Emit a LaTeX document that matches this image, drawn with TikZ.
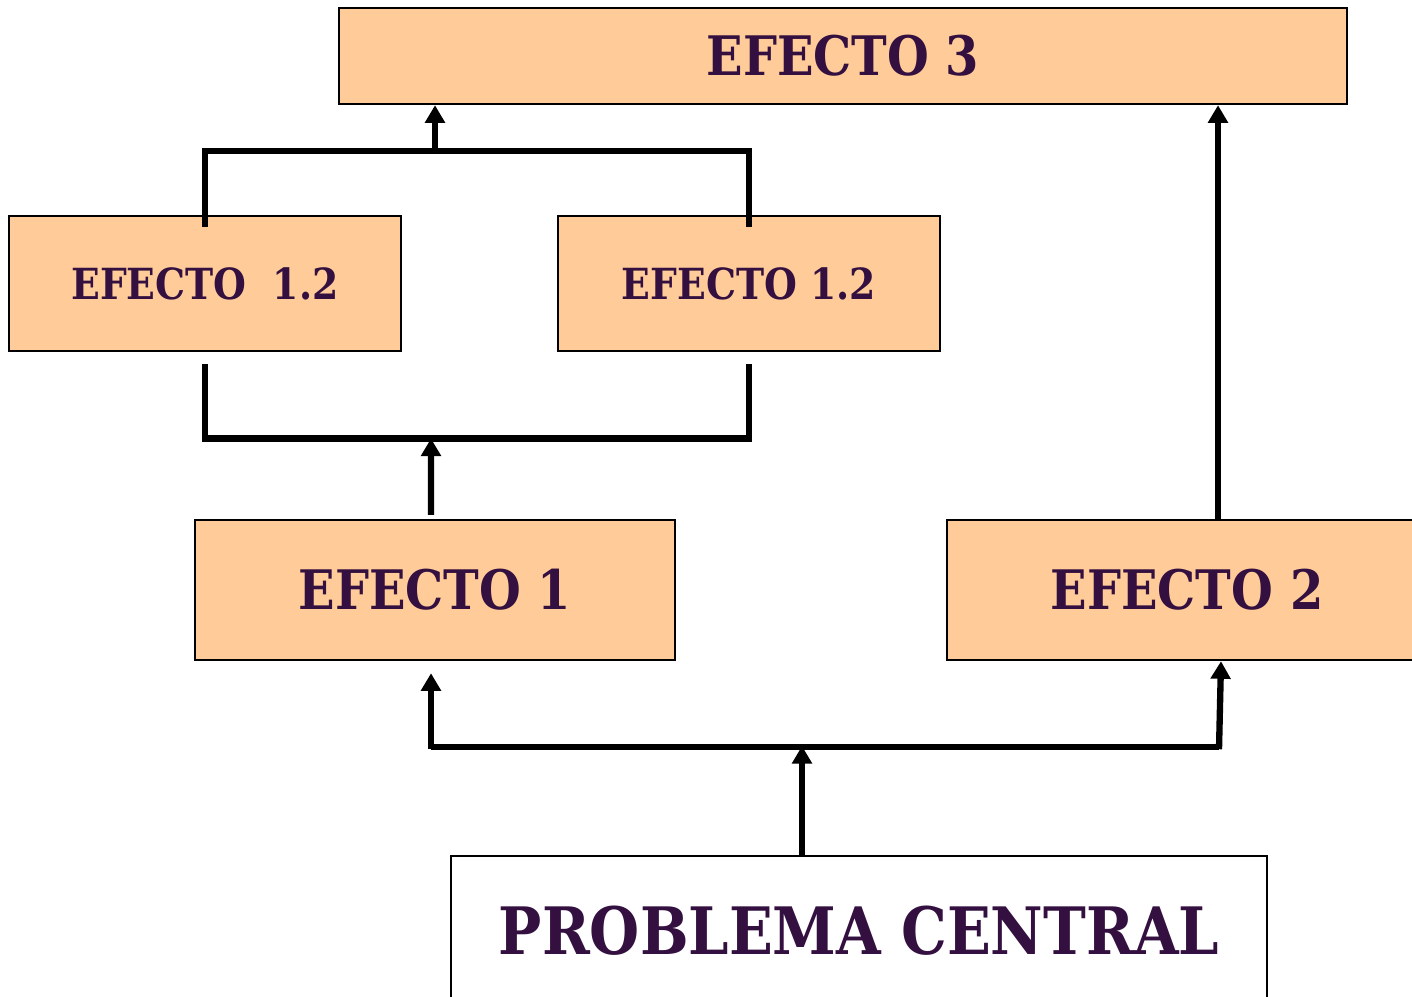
\documentclass[tikz,border=0pt]{standalone}
\usepackage{fontspec}
\setmainfont{DejaVu Serif}
\newfontfamily\slabfont[FakeStretch=0.88]{DejaVu Serif}
\usepackage{tikz}
\usetikzlibrary{calc, arrows.meta}
\definecolor{peach}{HTML}{FFCC99}
\definecolor{ink}{HTML}{33103F}
\tikzset{
  efbox/.style={draw=black, line width=0.7pt, fill=peach, text=ink,
    font=\slabfont\bfseries, inner sep=0pt},
  bar/.style={line width=1.8pt},
  up/.style={line width=1.8pt, -{Triangle[length=5pt,width=5.5pt]}}
}

\begin{document}
\begin{tikzpicture}
  \useasboundingbox (0,0) rectangle (14.12,-9.97);
  % boxes
  \node[efbox, minimum width=10.08cm, minimum height=0.96cm,
    font=\slabfont\bfseries\fontsize{15.5}{18}\selectfont] (e3) at (8.43,-0.56) {EFECTO 3};
  \node[efbox, minimum width=3.92cm, minimum height=1.35cm,
    font=\slabfont\bfseries\fontsize{12.2}{14}\selectfont] (e12l) at (2.05,-2.835) {EFECTO\ \ 1.2};
  \node[efbox, minimum width=3.82cm, minimum height=1.35cm,
    font=\slabfont\bfseries\fontsize{12.2}{14}\selectfont] (e12r) at (7.49,-2.835) {EFECTO 1.2};
  \node[efbox, minimum width=4.80cm, minimum height=1.40cm,
    font=\slabfont\bfseries\fontsize{15.5}{18}\selectfont] (e1) at (4.35,-5.90) {EFECTO 1};
  \node[efbox, minimum width=4.80cm, minimum height=1.40cm,
    font=\slabfont\bfseries\fontsize{15.5}{18}\selectfont] (e2) at (11.87,-5.90) {EFECTO 2};
  \node[efbox, fill=white, minimum width=8.16cm, minimum height=1.50cm,
    font=\slabfont\bfseries\fontsize{18.6}{21}\selectfont] (pc) at (8.59,-9.31) {PROBLEMA CENTRAL};
  % junctions
  \coordinate (t) at (4.35,-1.51);
  \coordinate (m) at (4.31,-4.385);
  \coordinate (b) at (8.02,-7.46);
  % upper bracket to EFECTO 3
  \draw[bar] ($(e12l.north)+(0,-0.12)$) |- (t) -| ($(e12r.north)+(0,-0.12)$);
  \draw[up] (t) -- (t |- e3.south);
  % lower bracket from EFECTO 1
  \draw[bar] ($(e12l.south)+(0,-0.12)$) |- (m) -| ($(e12r.south)+(0,-0.12)$);
  \draw[up] ($(e1.north)+(-0.04,0.04)$) -- (m);
  % EFECTO 2 to EFECTO 3
  \draw[up] (e2.north -| 12.18,0) -- (e3.south -| 12.18,0);
  % from PROBLEMA CENTRAL
  \draw[bar] ($(e1.south)+(-0.04,-0.86)$) -- ($(e2.south)+(0.32,-0.86)$);
  \draw[up] ($(e1.south)+(-0.04,-0.88)$) -- ($(e1.south)+(-0.04,-0.12)$);
  \draw[up] ($(e2.south)+(0.32,-0.88)$) -- ($(e2.south)+(0.34,0)$);
  \draw[up] (pc.north -| b) -- (b);
\end{tikzpicture}
\end{document}
